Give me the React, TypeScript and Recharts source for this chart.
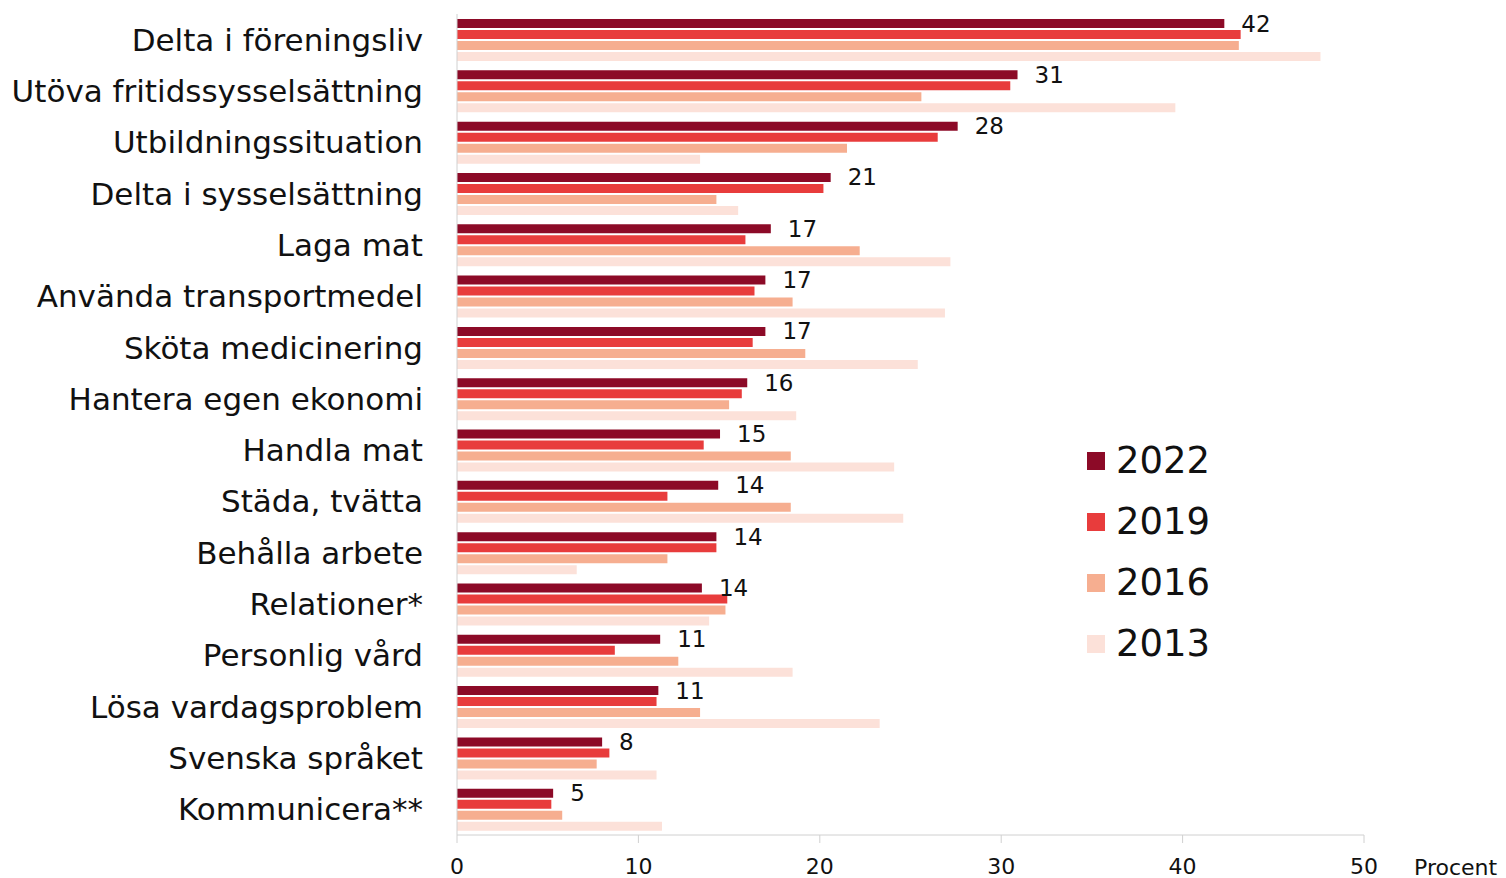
import { Bar, BarChart, LabelList, XAxis, YAxis } from "recharts";

const CATEGORIES = [
  "Delta i föreningsliv",
  "Utöva fritidssysselsättning",
  "Utbildningssituation",
  "Delta i sysselsättning",
  "Laga mat",
  "Använda transportmedel",
  "Sköta medicinering",
  "Hantera egen ekonomi",
  "Handla mat",
  "Städa, tvätta",
  "Behålla arbete",
  "Relationer*",
  "Personlig vård",
  "Lösa vardagsproblem",
  "Svenska språket",
  "Kommunicera**",
];

const Y2022 = [42.3, 30.9, 27.6, 20.6, 17.3, 17.0, 17.0, 16.0, 14.5, 14.4, 14.3, 13.5, 11.2, 11.1, 8.0, 5.3];
const Y2019 = [43.2, 30.5, 26.5, 20.2, 15.9, 16.4, 16.3, 15.7, 13.6, 11.6, 14.3, 14.9, 8.7, 11.0, 8.4, 5.2];
const Y2016 = [43.1, 25.6, 21.5, 14.3, 22.2, 18.5, 19.2, 15.0, 18.4, 18.4, 11.6, 14.8, 12.2, 13.4, 7.7, 5.8];
const Y2013 = [47.6, 39.6, 13.4, 15.5, 27.2, 26.9, 25.4, 18.7, 24.1, 24.6, 6.6, 13.9, 18.5, 23.3, 11.0, 11.3];

const X_TICKS = [0, 10, 20, 30, 40, 50];

const SERIES = [
  { key: "y2022", name: "2022", color: "#8c0a27" },
  { key: "y2019", name: "2019", color: "#e83c3c" },
  { key: "y2016", name: "2016", color: "#f6ae90" },
  { key: "y2013", name: "2013", color: "#fce1d9" },
];

const FONT = "'DejaVu Sans', Verdana, sans-serif";

const data = CATEGORIES.map((label, i) => ({
  label,
  y2022: Y2022[i],
  y2019: Y2019[i],
  y2016: Y2016[i],
  y2013: Y2013[i],
}));

function ValueLabel(props: any) {
  const { x, y, width, height, value } = props;
  return (
    <text
      x={x + width + 17}
      y={y + height / 2}
      dominantBaseline="central"
      fontSize={23}
      fontFamily={FONT}
      fill="#111"
    >
      {Math.round(value)}
    </text>
  );
}

export default function App() {
  return (
    <div style={{ position: "absolute", left: 0, top: 0, width: 1506, height: 878, background: "#fff" }}>
      <BarChart
        width={1506}
        height={878}
        data={data}
        layout="vertical"
        margin={{ top: 14, right: 142, left: 0, bottom: 0 }}
        barSize={9}
        barGap={2}
      >
        <XAxis
          type="number"
          domain={[0, 50]}
          ticks={X_TICKS}
          height={43}
          stroke="#d0d0d0"
          tickSize={8}
          tickMargin={15}
          tick={{ fontSize: 22, fill: "#111", fontFamily: FONT }}
        />
        <YAxis
          type="category"
          dataKey="label"
          width={457}
          stroke="#d0d0d0"
          tickLine={false}
          tickSize={0}
          tickMargin={34}
          interval={0}
          tick={{ fontSize: 31, fill: "#111", fontFamily: FONT }}
        />
        {SERIES.map((s) => (
          <Bar key={s.key} dataKey={s.key} name={s.name} fill={s.color} isAnimationActive={false}>
            {s.key === "y2022" && <LabelList dataKey="y2022" content={ValueLabel} />}
          </Bar>
        ))}
      </BarChart>
      <div style={{ position: "absolute", left: 1087, top: 430, fontFamily: FONT }}>
        {SERIES.map((s) => (
          <div key={s.key} style={{ display: "flex", alignItems: "center", height: 61 }}>
            <span style={{ width: 18, height: 18, background: s.color, marginRight: 11 }} />
            <span style={{ fontSize: 37, color: "#111" }}>{s.name}</span>
          </div>
        ))}
      </div>
      <div
        style={{
          position: "absolute",
          left: 1414,
          top: 855,
          fontSize: 22,
          fontFamily: FONT,
          color: "#111",
        }}
      >
        Procent
      </div>
    </div>
  );
}
